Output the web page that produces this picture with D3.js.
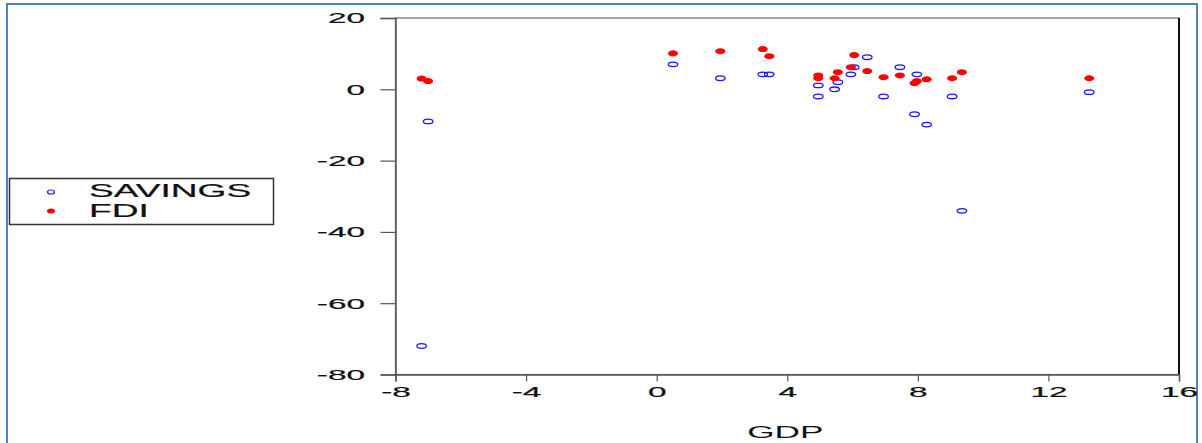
<!DOCTYPE html>
<html>
<head>
<meta charset="utf-8">
<script src="https://cdn.jsdelivr.net/npm/d3@7"></script>
<style>
  html, body { margin: 0; padding: 0; background: #fff; }
  svg { display: block; }
  text { font-family: "Liberation Sans", Arial, sans-serif; fill: #111; }
</style>
</head>
<body>
<svg id="chart" width="1202" height="443"></svg>
<script>
// --- data (one entry per observation) ---
const gdp     = [-7.2, -7.0, 0.5, 1.95, 3.25, 3.45, 4.95, 4.95, 5.45, 5.55, 5.95, 6.05, 6.45, 6.95, 7.45, 7.9, 7.97, 8.27, 9.05, 9.35, 13.25];
const savings = [-72.0, -9.0, 7.0, 3.1, 4.2, 4.2, 1.1, -2.0, 0.0, 2.0, 4.2, 6.2, 9.0, -2.0, 6.2, -7.0, 4.2, -9.9, -2.0, -34.1, -0.8];
const fdi     = [3.0, 2.3, 10.1, 10.7, 11.3, 9.3, 3.9, 3.1, 3.1, 4.8, 6.2, 9.6, 5.1, 3.4, 3.9, 1.7, 2.3, 2.8, 3.1, 4.8, 3.1];
const xTicks = [-8, -4, 0, 4, 8, 12, 16];
const yTicks = [20, 0, -20, -40, -60, -80];
const seriesNames = ["SAVINGS", "FDI"];

const STRETCH = 2.15; // the source image is stretched horizontally

const svg = d3.select("#chart");

// outer blue frame
svg.append("path")
  .attr("d", "M7,443 L7,4 L1197,4 L1197,443")
  .attr("fill", "none")
  .attr("stroke", "#4f81bd")
  .attr("stroke-width", 2);

const plot = { left: 395.5, right: 1179, top: 18, bottom: 374.5 };

const x = d3.scaleLinear().domain([-8, 16]).range([plot.left, plot.right]);
const y = d3.scaleLinear().domain([-80, 20]).range([plot.bottom, plot.top]);

// plot frame
svg.append("rect")
  .attr("x", plot.left).attr("y", plot.top)
  .attr("width", plot.right - plot.left).attr("height", plot.bottom - plot.top)
  .attr("fill", "none").attr("stroke", "#666").attr("stroke-width", 1.2);
svg.append("line")
  .attr("x1", plot.right).attr("x2", plot.right)
  .attr("y1", plot.top).attr("y2", plot.bottom)
  .attr("stroke", "#111").attr("stroke-width", 2);

// y axis
const yAxis = svg.append("g")
  .attr("transform", `translate(${plot.left},0)`)
  .call(d3.axisLeft(y).tickValues(yTicks).tickSize(15).tickFormat(d3.format("d")));
yAxis.select(".domain").attr("stroke", "#555").attr("stroke-width", 1.5);
yAxis.selectAll(".tick line").attr("stroke", "#555").attr("stroke-width", 1.2);
yAxis.selectAll(".tick text")
  .text((d) => String(d))
  .attr("x", -30.5 / STRETCH)
  .attr("transform", `scale(${STRETCH},1)`)
  .attr("font-size", 15.5)
  .attr("font-family", "Liberation Sans, Arial, sans-serif")
  .attr("fill", "#111")
  .attr("stroke", "#111").attr("stroke-width", 0.2);

// x axis
const xAxis = svg.append("g")
  .attr("transform", `translate(0,${plot.bottom})`)
  .call(d3.axisBottom(x).tickValues(xTicks).tickSize(7).tickPadding(5).tickFormat(d3.format("d")));
xAxis.select(".domain").attr("stroke", "#555").attr("stroke-width", 1.5);
xAxis.selectAll(".tick line").attr("stroke", "#555").attr("stroke-width", 1.2);
xAxis.selectAll(".tick text")
  .text((d) => String(d))
  .attr("transform", `scale(${STRETCH},1)`)
  .attr("font-size", 15.5)
  .attr("font-family", "Liberation Sans, Arial, sans-serif")
  .attr("fill", "#111")
  .attr("stroke", "#111").attr("stroke-width", 0.2);

// x axis title
svg.append("text")
  .attr("transform", `translate(${(plot.left + plot.right) / 2 - 2},438) scale(2.2,1)`)
  .attr("text-anchor", "middle")
  .attr("font-size", 16)
  .text("GDP");

// points
const obs = gdp.map((g, i) => ({ g, s: savings[i], f: fdi[i] }));

svg.append("g").selectAll("ellipse")
  .data(obs)
  .join("ellipse")
  .attr("cx", (d) => x(d.g))
  .attr("cy", (d) => y(d.s))
  .attr("rx", 4.8).attr("ry", 2.3)
  .attr("fill", "none")
  .attr("stroke", "#1a1aff")
  .attr("stroke-width", 1.3);

svg.append("g").selectAll("ellipse")
  .data(obs)
  .join("ellipse")
  .attr("cx", (d) => x(d.g))
  .attr("cy", (d) => y(d.f))
  .attr("rx", 5).attr("ry", 3)
  .attr("fill", "#ff0000");

// legend
const legend = svg.append("g");
legend.append("rect")
  .attr("x", 9.5).attr("y", 178.5).attr("width", 264).attr("height", 46)
  .attr("fill", "#fff").attr("stroke", "#333").attr("stroke-width", 1.5);

legend.append("ellipse")
  .attr("cx", 51).attr("cy", 192).attr("rx", 3.5).attr("ry", 2)
  .attr("fill", "none").attr("stroke", "#1a1aff").attr("stroke-width", 1.2);
legend.append("ellipse")
  .attr("cx", 51).attr("cy", 211).attr("rx", 4).attr("ry", 2.5)
  .attr("fill", "#ff0000");

seriesNames.forEach((name, i) => {
  legend.append("text")
    .attr("transform", `translate(89,${197 + i * 20}) scale(2.12,1)`)
    .attr("font-size", 17.5)
    .attr("stroke", "#111").attr("stroke-width", 0.2)
    .text(name);
});
</script>
</body>
</html>
